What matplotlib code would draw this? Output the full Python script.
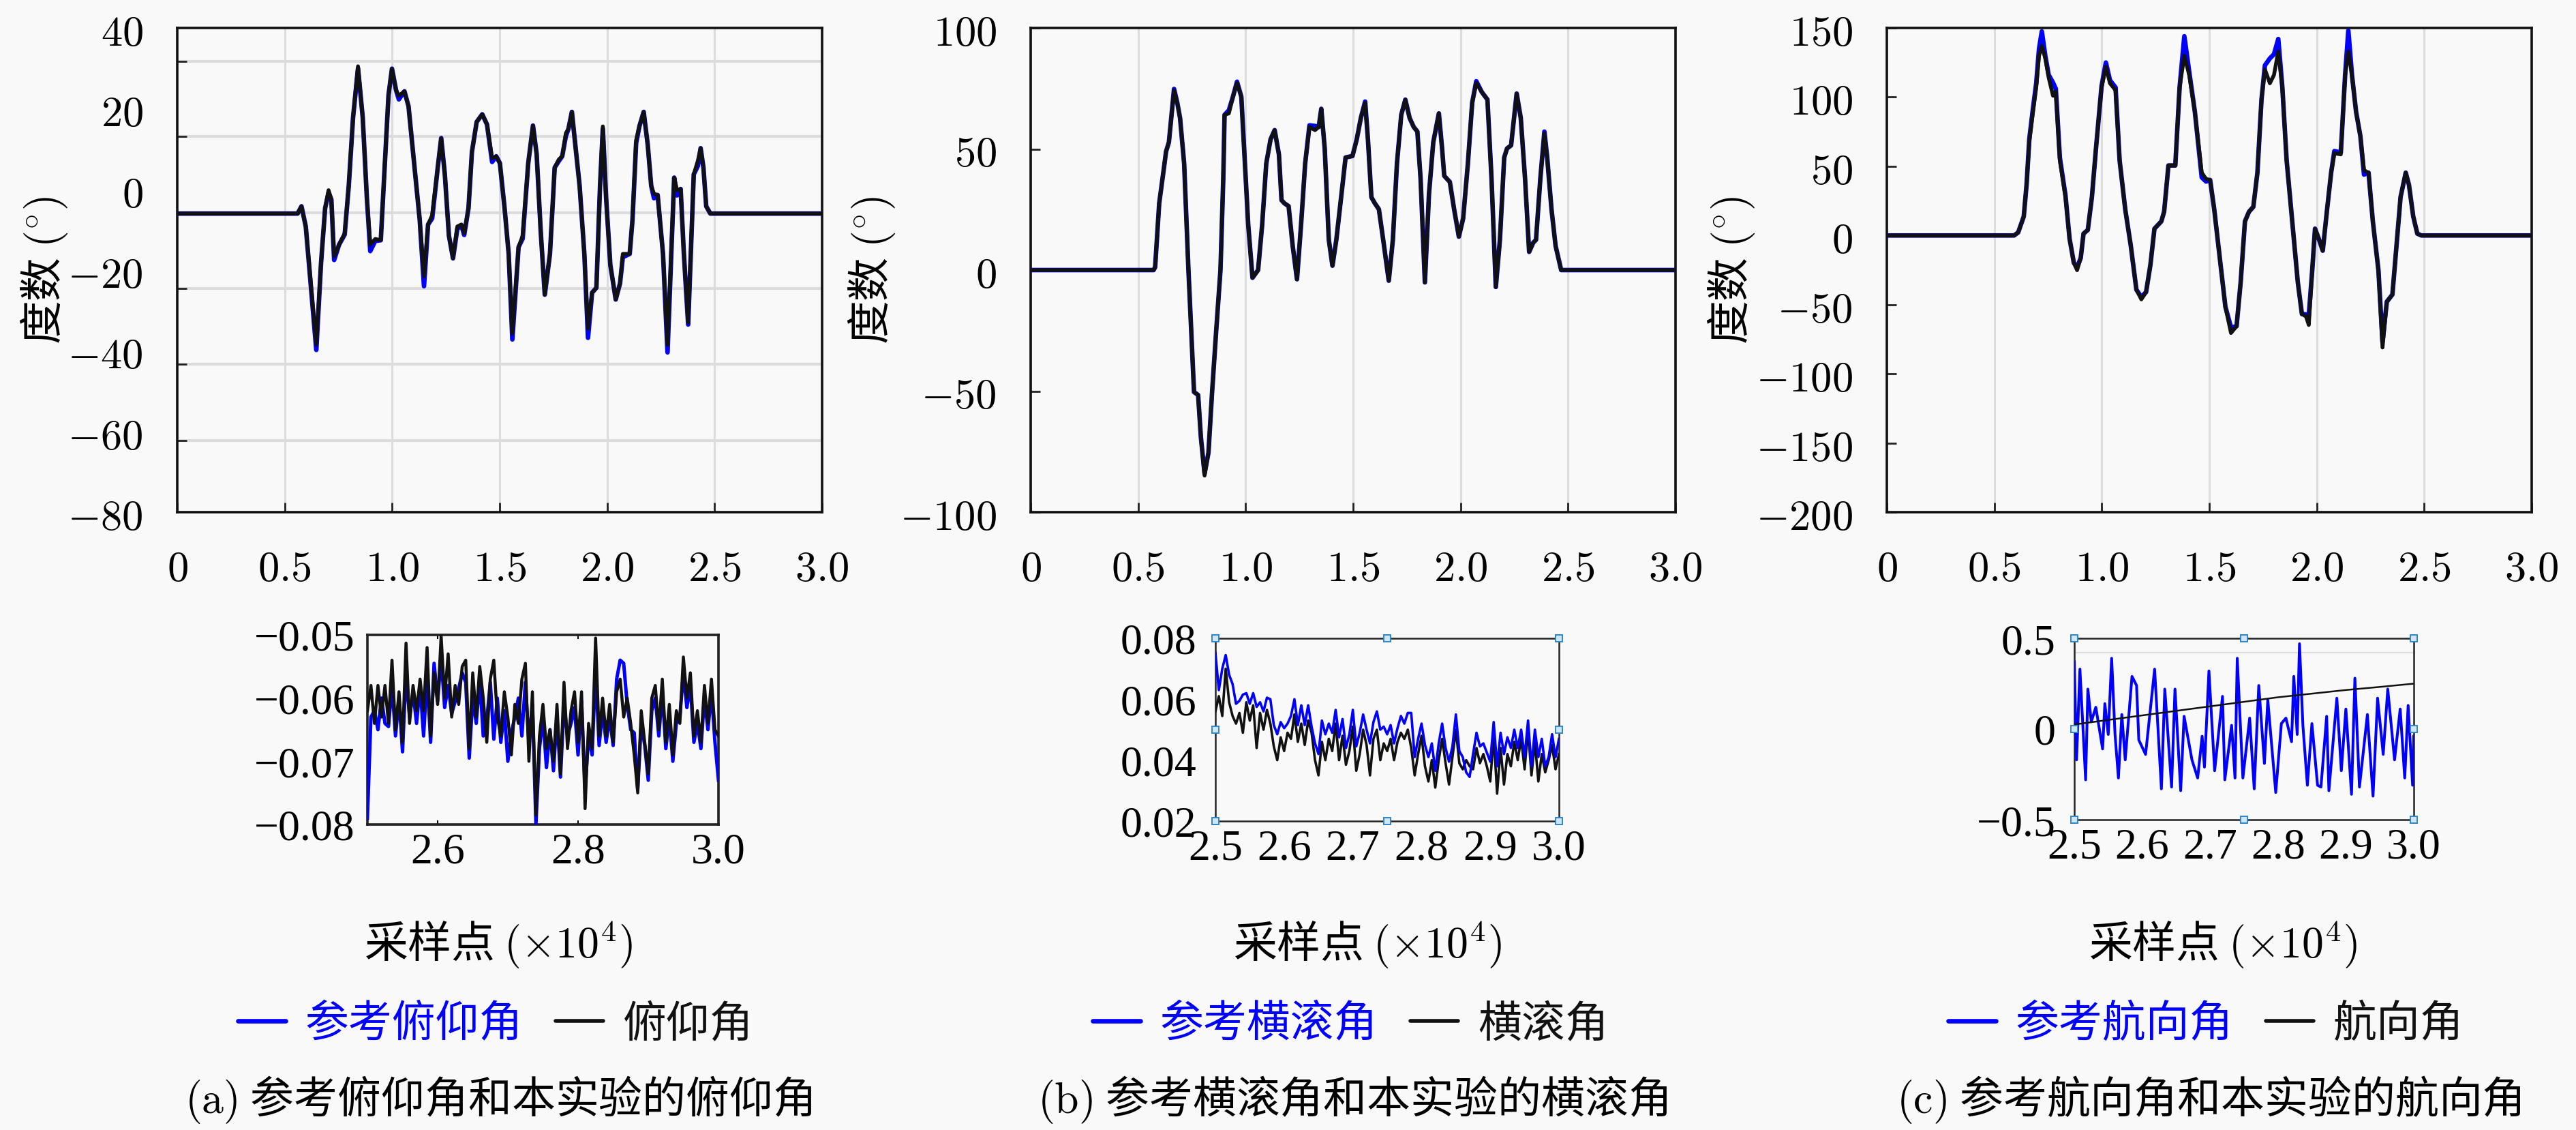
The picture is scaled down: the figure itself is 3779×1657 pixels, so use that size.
import numpy as np
import matplotlib
matplotlib.use('Agg')
import matplotlib.pyplot as plt

plt.rcParams['mathtext.fontset'] = 'cm'
plt.rcParams['font.family'] = ['Noto Sans CJK SC', 'DejaVu Sans']
plt.rcParams['axes.unicode_minus'] = True

# ---------------- data ----------------
main_xticks = [0, 0.5, 1.0, 1.5, 2.0, 2.5, 3.0]
main_xticklabels = ['0', '0.5', '1.0', '1.5', '2.0', '2.5', '3.0']

# (a) pitch, values as read against the printed y labels
pitch_x = [0.0, 0.56, 0.578, 0.598, 0.647, 0.669, 0.688, 0.704, 0.717, 0.730, 0.753, 0.779, 0.798, 0.818,
           0.841, 0.863, 0.882, 0.898, 0.921, 0.947, 0.966, 0.983, 0.999, 1.018, 1.031, 1.057, 1.076, 1.102,
           1.128, 1.148, 1.167, 1.186, 1.212, 1.228, 1.245, 1.264, 1.283, 1.303, 1.322, 1.335, 1.355, 1.371,
           1.393, 1.419, 1.441, 1.465, 1.484, 1.501, 1.523, 1.542, 1.559, 1.588, 1.607, 1.633, 1.655, 1.672,
           1.691, 1.710, 1.734, 1.756, 1.775, 1.791, 1.808, 1.820, 1.836, 1.853, 1.872, 1.894, 1.911, 1.930,
           1.950, 1.967, 1.980, 1.995, 2.015, 2.040, 2.060, 2.073, 2.105, 2.118, 2.135, 2.150, 2.170, 2.189,
           2.205, 2.218, 2.235, 2.260, 2.281, 2.312, 2.325, 2.342, 2.357, 2.377, 2.403, 2.422, 2.435, 2.448,
           2.461, 2.480, 3.0]
pitch_exp = [-6.0, -6.0, -4.2, -9.2, -38.5, -18.3, -4.7, -0.2, -2.5, -16.6, -13.7, -10.9, 0.9, 17.8,
             30.5, 17.8, -1.9, -13.7, -12.3, -12.6, 6.5, 23.4, 29.9, 24.6, 23.2, 24.3, 20.6, 6.5,
             -7.5, -21.6, -8.7, -6.4, 5.4, 12.7, 3.7, -11.5, -17.1, -9.2, -8.7, -10.9, -4.7, 9.3,
             16.7, 18.6, 16.1, 7.7, 8.2, 6.5, -4.7, -16.0, -35.8, -14.3, -11.5, 6.5, 15.8, 8.8,
             -10.4, -26.1, -16.0, 5.4, 7.4, 8.2, 13.9, 15.0, 19.2, 10.5, 0.9, -16.0, -34.5, -25.6,
             -24.4, 0.9, 15.6, -1.9, -18.8, -27.3, -23.3, -16.0, -16.0, -7.5, 12.2, 15.6, 19.2, 11.0,
             0.9, -1.1, -1.4, -16.0, -38.5, 2.9, -0.2, 0.1, -16.0, -33.0, 3.7, 7.1, 10.2, 5.4,
             -4.2, -6.0, -6.0]
pitch_ref = [-6.0, -6.0, -4.2, -9.2, -39.8, -18.3, -4.7, -0.8, -2.5, -17.5, -13.7, -11.2, 0.9, 17.8,
             30.0, 17.8, -1.9, -15.3, -12.8, -12.6, 6.5, 23.4, 29.9, 24.6, 22.3, 24.3, 20.6, 6.5,
             -7.5, -24.0, -8.7, -7.2, 5.4, 12.7, 3.7, -11.5, -17.1, -9.8, -8.9, -11.3, -4.7, 9.3,
             16.7, 18.6, 16.1, 6.8, 8.2, 6.5, -4.7, -16.0, -37.2, -14.3, -12.2, 6.5, 15.8, 8.8,
             -10.4, -26.1, -16.0, 5.4, 7.0, 8.2, 13.2, 15.0, 19.2, 10.5, 0.9, -16.0, -36.8, -25.6,
             -24.4, 0.9, 15.0, -1.9, -18.8, -27.3, -23.3, -16.8, -16.0, -7.5, 11.5, 15.6, 19.2, 11.0,
             0.9, -2.2, -1.4, -16.0, -40.4, 2.9, -1.5, 0.1, -16.0, -33.5, 3.7, 5.8, 10.2, 5.4,
             -4.2, -6.0, -6.0]
pitch_yticks = [40, 20, 0, -20, -40, -60, -80]
pitch_yticklabels = ['40', '20', '0', '-20', '-40', '-60', '-80']
pitch_grid = [31.8, 13.1, -5.8, -24.5, -43.4, -62.3]

# (b) roll
roll_x = [0.0, 0.572, 0.579, 0.598, 0.617, 0.630, 0.643, 0.667, 0.682, 0.695, 0.714, 0.734, 0.747, 0.760,
          0.779, 0.792, 0.809, 0.827, 0.844, 0.863, 0.883, 0.896, 0.902, 0.922, 0.941, 0.960, 0.980, 0.993,
          1.012, 1.032, 1.058, 1.077, 1.096, 1.116, 1.135, 1.155, 1.167, 1.180, 1.200, 1.219, 1.239, 1.258,
          1.277, 1.297, 1.323, 1.340, 1.352, 1.368, 1.387, 1.404, 1.422, 1.446, 1.465, 1.497, 1.517, 1.536,
          1.556, 1.569, 1.585, 1.601, 1.620, 1.640, 1.666, 1.685, 1.704, 1.724, 1.743, 1.763, 1.782, 1.799,
          1.814, 1.834, 1.853, 1.873, 1.899, 1.914, 1.924, 1.950, 1.970, 1.992, 2.012, 2.034, 2.054, 2.073,
          2.099, 2.125, 2.144, 2.164, 2.183, 2.203, 2.216, 2.235, 2.261, 2.280, 2.300, 2.319, 2.338, 2.351,
          2.371, 2.390, 2.403, 2.423, 2.442, 2.468, 3.0]
roll_exp = [0.0, 0.0, 1.2, 27.6, 40.2, 49.0, 52.8, 74.2, 69.1, 62.8, 44.0, 0.0, -25.2, -50.4,
            -51.6, -69.2, -84.9, -75.5, -50.4, -25.2, 0.0, 37.7, 64.1, 64.7, 71.6, 77.3, 71.6, 50.2,
            18.8, -3.2, 0.0, 18.8, 44.0, 54.0, 57.8, 47.7, 28.9, 27.6, 26.4, 10.0, -3.8, 18.8,
            44.0, 59.1, 57.8, 59.1, 66.6, 50.2, 12.5, 1.8, 12.5, 31.4, 46.5, 47.1, 54.0, 62.8,
            69.1, 54.0, 30.1, 27.6, 25.1, 12.5, -4.4, 12.5, 44.0, 64.1, 70.4, 62.8, 59.1, 57.2,
            37.7, -5.1, 31.4, 52.8, 64.7, 50.2, 38.9, 36.4, 25.1, 13.8, 21.3, 44.0, 69.1, 77.3,
            73.5, 70.4, 37.7, -7.0, 12.5, 46.5, 50.2, 51.5, 72.9, 62.8, 37.7, 7.5, 11.3, 12.5,
            37.7, 56.5, 46.5, 25.1, 10.0, 0.0, 0.0]
roll_ref = [0.0, 0.0, 1.2, 27.6, 40.2, 49.0, 52.8, 74.8, 69.1, 62.8, 44.0, 0.0, -25.2, -50.4,
            -51.6, -69.2, -84.0, -75.5, -50.4, -25.2, 0.0, 37.7, 64.1, 66.0, 71.6, 77.8, 71.6, 50.2,
            18.8, -3.2, 0.0, 18.8, 44.0, 54.0, 57.8, 47.7, 28.9, 27.6, 26.4, 10.0, -3.8, 18.8,
            44.0, 59.8, 59.5, 59.1, 66.6, 50.2, 12.5, 1.8, 12.5, 31.4, 46.5, 47.1, 54.0, 62.8,
            69.6, 54.0, 30.1, 27.6, 25.1, 12.5, -4.4, 12.5, 44.0, 64.1, 70.4, 62.8, 59.1, 57.2,
            37.7, -5.1, 31.4, 52.8, 64.7, 50.2, 38.9, 36.4, 25.1, 13.8, 21.3, 44.0, 69.1, 78.0,
            73.5, 70.4, 37.7, -7.0, 12.5, 46.5, 50.2, 51.5, 72.9, 62.8, 37.7, 7.5, 11.3, 12.5,
            37.7, 57.2, 46.5, 25.1, 10.0, 0.0, 0.0]
roll_yticks = [100, 50, 0, -50, -100]
roll_yticklabels = ['100', '50', '0', '-50', '-100']
roll_grid = [50, 0, -50]

# (c) heading
yaw_x = [0.0, 0.592, 0.611, 0.637, 0.650, 0.663, 0.680, 0.695, 0.708, 0.721, 0.737, 0.753, 0.773, 0.786,
         0.805, 0.831, 0.850, 0.870, 0.885, 0.902, 0.915, 0.935, 0.954, 0.973, 0.999, 1.019, 1.038, 1.064,
         1.083, 1.109, 1.135, 1.161, 1.184, 1.206, 1.226, 1.245, 1.277, 1.290, 1.310, 1.342, 1.362, 1.384,
         1.407, 1.433, 1.465, 1.485, 1.504, 1.523, 1.549, 1.575, 1.601, 1.627, 1.646, 1.666, 1.685, 1.705,
         1.724, 1.743, 1.759, 1.782, 1.801, 1.821, 1.840, 1.860, 1.886, 1.912, 1.931, 1.950, 1.963, 1.979,
         1.992, 2.009, 2.028, 2.047, 2.067, 2.082, 2.112, 2.132, 2.147, 2.164, 2.183, 2.203, 2.220, 2.241,
         2.261, 2.287, 2.306, 2.326, 2.352, 2.371, 2.390, 2.414, 2.429, 2.449, 2.468, 2.487, 3.0]
yaw_exp = [0, 0, 2.2, 13.7, 36.6, 68.2, 89.4, 107.0, 129.9, 137.0, 128.1, 114.0, 101.0, 104.0,
           54.2, 27.8, -2.2, -19.8, -25.1, -16.3, 1.3, 4.0, 27.8, 63.0, 107.0, 122.0, 110.0, 105.0,
           54.2, 19.0, -7.5, -39.2, -46.2, -40.9, -21.5, 4.9, 10.2, 17.2, 50.6, 50.6, 107.0, 130.0,
           115.8, 89.4, 45.4, 40.9, 40.1, 19.0, -16.3, -51.5, -70.5, -65.6, -33.9, 10.2, 17.2, 20.7,
           45.4, 98.2, 120.0, 110.0, 116.0, 133.0, 107.0, 54.2, 10.2, -33.9, -56.8, -58.5, -64.7, -25.1,
           4.9, -2.2, -11.0, 17.2, 45.4, 59.4, 58.6, 115.8, 133.0, 115.8, 89.4, 71.8, 47.1, 45.4,
           10.2, -25.1, -81.0, -47.9, -42.7, -7.5, 27.8, 45.4, 36.6, 13.7, 1.3, 0, 0]
yaw_ref = [0, 0, 2.2, 13.7, 36.6, 70.0, 92.0, 110.0, 135.0, 147.5, 130.0, 116.0, 110.5, 106.0,
           56.0, 29.0, -2.2, -19.8, -23.0, -16.3, 1.3, 4.0, 27.8, 63.0, 108.0, 125.0, 112.2, 107.0,
           54.2, 19.0, -7.5, -39.2, -44.5, -40.9, -21.5, 4.9, 10.2, 17.2, 50.6, 50.6, 107.0, 144.0,
           118.0, 89.4, 42.0, 39.0, 40.1, 19.0, -16.3, -51.5, -66.5, -65.6, -33.9, 10.2, 17.2, 20.7,
           45.4, 98.2, 123.0, 128.0, 131.0, 142.0, 107.0, 54.2, 10.2, -33.9, -56.8, -57.0, -58.0, -25.1,
           4.9, -2.2, -11.0, 17.2, 45.4, 61.0, 60.0, 115.8, 148.0, 115.8, 89.4, 71.8, 44.0, 45.4,
           10.2, -25.1, -77.0, -47.9, -42.7, -7.5, 27.8, 45.4, 36.6, 13.7, 1.3, 0, 0]
yaw_yticks = [150, 100, 50, 0, -50, -100, -150, -200]
yaw_yticklabels = ['150', '100', '50', '0', '-50', '-100', '-150', '-200']
yaw_grid = [100, 50, 0, -50, -100, -150]

# insets (x in units of 10^4, sampled every 0.005 for (a) and (b))
pitch_in_exp = [-0.062, -0.058, -0.064, -0.058, -0.063, -0.058, -0.064, -0.054, -0.065, -0.059,
                -0.067, -0.0513, -0.064, -0.058, -0.062, -0.057, -0.062, -0.052, -0.066, -0.056,
                -0.061, -0.0502, -0.060, -0.053, -0.063, -0.058, -0.061, -0.055, -0.054, -0.068,
                -0.056, -0.063, -0.055, -0.060, -0.067, -0.057, -0.054, -0.063, -0.066, -0.059,
                -0.063, -0.069, -0.061, -0.064, -0.057, -0.0545, -0.070, -0.059, -0.0785, -0.066,
                -0.061, -0.068, -0.065, -0.070, -0.061, -0.072, -0.0575, -0.068, -0.062, -0.059,
                -0.067, -0.059, -0.0775, -0.064, -0.068, -0.0505, -0.066, -0.060, -0.066, -0.061,
                -0.067, -0.059, -0.057, -0.063, -0.060, -0.064, -0.069, -0.075, -0.062, -0.067,
                -0.072, -0.060, -0.058, -0.065, -0.057, -0.067, -0.061, -0.069, -0.062, -0.064,
                -0.0535, -0.060, -0.056, -0.066, -0.062, -0.067, -0.058, -0.064, -0.057, -0.065,
                -0.066]
pitch_in_ref = [-0.079, -0.063, -0.062, -0.065, -0.060, -0.064, -0.0645, -0.058, -0.066, -0.060,
                -0.0685, -0.056, -0.063, -0.059, -0.064, -0.058, -0.066, -0.0565, -0.067, -0.0545,
                -0.0605, -0.0535, -0.0615, -0.058, -0.0625, -0.0605, -0.0585, -0.056, -0.0575, -0.0695,
                -0.060, -0.064, -0.057, -0.066, -0.0635, -0.0575, -0.0665, -0.060, -0.067, -0.062,
                -0.070, -0.0655, -0.063, -0.060, -0.066, -0.0575, -0.067, -0.061, -0.080, -0.068,
                -0.063, -0.071, -0.065, -0.0715, -0.063, -0.0725, -0.061, -0.066, -0.064, -0.0615,
                -0.069, -0.0605, -0.0745, -0.066, -0.069, -0.0555, -0.0675, -0.062, -0.067, -0.063,
                -0.0675, -0.057, -0.0540, -0.0545, -0.061, -0.065, -0.0655, -0.0745, -0.064, -0.0675,
                -0.073, -0.062, -0.060, -0.066, -0.059, -0.068, -0.063, -0.070, -0.064, -0.063,
                -0.056, -0.0615, -0.058, -0.067, -0.064, -0.068, -0.060, -0.065, -0.059, -0.067,
                -0.073]
pitch_in_yticks = [-0.05, -0.06, -0.07, -0.08]
pitch_in_yticklabels = ['\u22120.05', '\u22120.06', '\u22120.07', '\u22120.08']
pitch_in_xticks = [2.6, 2.8, 3.0]
pitch_in_xticklabels = ['2.6', '2.8', '3.0']

roll_in_ref = [0.0752, 0.0630, 0.0700, 0.0745, 0.0680, 0.0650, 0.0585, 0.0595, 0.0615, 0.0620,
               0.0585, 0.0620, 0.0575, 0.0590, 0.0560, 0.0605, 0.0600, 0.0515, 0.0485, 0.0525,
               0.0505, 0.0520, 0.0545, 0.0600, 0.0515, 0.0580, 0.0515, 0.0580, 0.0510, 0.0455,
               0.0420, 0.0530, 0.0485, 0.0520, 0.0490, 0.0565, 0.0475, 0.0535, 0.0440, 0.0485,
               0.0565, 0.0445, 0.0490, 0.0550, 0.0500, 0.0455, 0.0525, 0.0560, 0.0500, 0.0510,
               0.0485, 0.0515, 0.0455, 0.0505, 0.0545, 0.0520, 0.0555, 0.0555, 0.0410, 0.0470,
               0.0520, 0.0450, 0.0410, 0.0455, 0.0365, 0.0455, 0.0520, 0.0440, 0.0395, 0.0445,
               0.0550, 0.0430, 0.0410, 0.0360, 0.0345, 0.0420, 0.0490, 0.0445, 0.0455, 0.0425,
               0.0395, 0.0525, 0.0380, 0.0490, 0.0420, 0.0475, 0.0440, 0.0500, 0.0440, 0.0500,
               0.0410, 0.0530, 0.0380, 0.0500, 0.0410, 0.0470, 0.0380, 0.0410, 0.0485, 0.0410,
               0.0470]
roll_in_exp = [0.0560, 0.0610, 0.0545, 0.0700, 0.0590, 0.0545, 0.0520, 0.0555, 0.0490, 0.0590,
               0.0530, 0.0580, 0.0440, 0.0555, 0.0500, 0.0565, 0.0520, 0.0445, 0.0400, 0.0475,
               0.0430, 0.0490, 0.0470, 0.0550, 0.0460, 0.0520, 0.0450, 0.0530, 0.0490, 0.0400,
               0.0350, 0.0460, 0.0400, 0.0470, 0.0430, 0.0520, 0.0400, 0.0480, 0.0385, 0.0430,
               0.0510, 0.0365, 0.0420, 0.0500, 0.0450, 0.0350, 0.0470, 0.0500, 0.0400, 0.0455,
               0.0430, 0.0470, 0.0400, 0.0460, 0.0490, 0.0470, 0.0500, 0.0440, 0.0350, 0.0420,
               0.0480, 0.0380, 0.0330, 0.0400, 0.0310, 0.0400, 0.0470, 0.0390, 0.0320, 0.0410,
               0.0500, 0.0390, 0.0370, 0.0400, 0.0380, 0.0370, 0.0440, 0.0390, 0.0420, 0.0380,
               0.0330, 0.0480, 0.0290, 0.0440, 0.0320, 0.0420, 0.0380, 0.0460, 0.0400, 0.0470,
               0.0370, 0.0500, 0.0350, 0.0460, 0.0330, 0.0420, 0.0360, 0.0400, 0.0450, 0.0370,
               0.0420]
roll_in_yticks = [0.08, 0.06, 0.04, 0.02]
roll_in_yticklabels = ['0.08', '0.06', '0.04', '0.02']
small_xticks = [2.5, 2.6, 2.7, 2.8, 2.9, 3.0]
small_xticklabels = ['2.5', '2.6', '2.7', '2.8', '2.9', '3.0']
small_xgrid = [2.6, 2.7, 2.8, 2.9]
roll_handles_x = [2.5, 2.75, 3.0, 2.5, 3.0, 2.5, 2.75, 3.0]
roll_handles_y = [0.08, 0.08, 0.08, 0.05, 0.05, 0.02, 0.02, 0.02]

yaw_in_x = [2.5000, 2.5033, 2.5083, 2.5167, 2.5200, 2.5250, 2.5317, 2.5417, 2.5450, 2.5500,
            2.5550, 2.5600, 2.5650, 2.5700, 2.5750, 2.5850, 2.5917, 2.5950, 2.6050, 2.6183,
            2.6283, 2.6333, 2.6433, 2.6483, 2.6567, 2.6617, 2.6733, 2.6817, 2.6883, 2.6917,
            2.6983, 2.7067, 2.7183, 2.7217, 2.7317, 2.7367, 2.7400, 2.7483, 2.7583, 2.7650,
            2.7717, 2.7800, 2.7850, 2.7967, 2.8050, 2.8117, 2.8200, 2.8233, 2.8283, 2.8317,
            2.8367, 2.8433, 2.8500, 2.8583, 2.8633, 2.8717, 2.8750, 2.8867, 2.8933, 2.9000,
            2.9083, 2.9133, 2.9200, 2.9317, 2.9400, 2.9467, 2.9550, 2.9617, 2.9717, 2.9800,
            2.9867, 2.9917, 2.9983, 3.0000]
yaw_in_ref = [0.37, -0.17, 0.33, -0.28, 0.22, 0.04, 0.12, -0.11, 0.14, -0.03,
              0.39, -0.03, -0.27, 0.08, -0.17, 0.29, 0.24, -0.06, -0.14, 0.33,
              -0.33, 0.22, -0.32, 0.22, -0.34, 0.07, -0.17, -0.27, -0.04, -0.21,
              0.32, -0.23, 0.18, -0.28, 0.02, -0.27, 0.39, -0.27, 0.06, -0.33,
              0.24, -0.19, 0.16, -0.35, 0.03, 0.06, -0.07, 0.29, -0.03, 0.47,
              0.02, -0.31, 0.03, -0.31, -0.32, 0.07, -0.34, 0.17, -0.23, 0.11,
              -0.36, 0.28, -0.32, 0.08, -0.37, 0.17, -0.14, 0.22, -0.17, 0.11,
              -0.27, 0.13, -0.31, -0.04]
yaw_in_exp_x = [2.50, 2.55, 2.60, 2.65, 2.70, 2.75, 2.80, 2.85, 2.90, 2.95, 3.00]
yaw_in_exp = [0.025, 0.050, 0.075, 0.100, 0.125, 0.150, 0.175, 0.195, 0.215, 0.232, 0.250]
yaw_in_yticks = [0.5, 0.0, -0.5]
yaw_in_yticklabels = ['0.5', '0', '\u22120.5']
yaw_in_hgrid = [0.42]
yaw_handles_x = [2.5, 2.75, 3.0, 2.5, 3.0, 2.5, 2.75, 3.0]
yaw_handles_y = [0.5, 0.5, 0.5, 0.0, 0.0, -0.5, -0.5, -0.5]

labels_ref = ['参考俯仰角', '参考横滚角', '参考航向角']
labels_exp = ['俯仰角', '横滚角', '航向角']
captions = ['$(\\mathrm{a})$ 参考俯仰角和本实验的俯仰角',
            '$(\\mathrm{b})$ 参考横滚角和本实验的横滚角',
            '$(\\mathrm{c})$ 参考航向角和本实验的航向角']
ylabel_text = '度数 $(^{\\circ})$'
xlabel_text = '采样点 $(\\times 10^{4})$'

# ---------------- layout ----------------
W, H = 3780, 1658
BG = '#f9f9f9'
BLUE = '#0000ff'
BLACK = '#111111'
GRID = '#dcdcdc'
SERIF = 'Liberation Serif'

fig = plt.figure(figsize=(W / 100, H / 100), dpi=100, facecolor=BG)


def rect(l, t, w, h):
    return [l / W, 1 - (t + h) / H, w / W, h / H]


def main_panel(r, x, ref, exp, ylim, yticks, yticklabels, grid_y, grid_on_minor):
    ax = fig.add_axes(r)
    ax.set_facecolor(BG)
    lr, = ax.plot(x, ref, color=BLUE, lw=4.8, solid_joinstyle='round', solid_capstyle='round', zorder=3)
    le, = ax.plot(x, exp, color=BLACK, lw=4.0, solid_joinstyle='round', solid_capstyle='round', zorder=4)
    ax.set_xlim(0, 3)
    ax.set_ylim(*ylim)
    ax.set_xticks(main_xticks)
    ax.set_xticklabels(['$%s$' % t for t in main_xticklabels])
    ax.set_yticks(yticks)
    ax.set_yticklabels(['$%s$' % t for t in yticklabels])
    ax.tick_params(axis='both', which='major', labelsize=45, pad=36, direction='in',
                   length=10, width=2, color='#222222')
    ax.xaxis.grid(True, which='major', color=GRID, lw=2.2, zorder=0)
    if grid_on_minor:
        ax.tick_params(axis='y', which='major', length=0)
        ax.set_yticks(grid_y, minor=True)
        ax.tick_params(axis='y', which='minor', direction='in', length=10, width=2, color='#222222')
        ax.yaxis.grid(True, which='minor', color=GRID, lw=3.0, zorder=0)
    else:
        ax.set_yticks(grid_y, minor=True)
        ax.tick_params(axis='y', which='minor', length=0)
        ax.yaxis.grid(True, which='minor', color=GRID, lw=3.0, zorder=0)
    ax.set_axisbelow(True)
    for s in ax.spines.values():
        s.set_linewidth(2.6)
        s.set_color('#111111')
    return ax, lr, le


def inset_panel(r, spine_lw):
    ax = fig.add_axes(r)
    ax.set_facecolor(BG)
    ax.set_xlim(2.5, 3.0)
    for s in ax.spines.values():
        s.set_linewidth(spine_lw)
        s.set_color('#222222')
    return ax


main_rects = [rect(260, 42, 946, 710), rect(1512, 42, 946, 710), rect(2768, 42, 946, 710)]

axa, la_r, la_e = main_panel(main_rects[0], pitch_x, pitch_ref, pitch_exp, (-80, 40),
                             pitch_yticks, pitch_yticklabels, pitch_grid, True)
axb, lb_r, lb_e = main_panel(main_rects[1], roll_x, roll_ref, roll_exp, (-100, 100),
                             roll_yticks, roll_yticklabels, roll_grid, False)
axc, lc_r, lc_e = main_panel(main_rects[2], yaw_x, yaw_ref, yaw_exp, (-200, 150),
                             yaw_yticks, yaw_yticklabels, yaw_grid, False)
for ax in (axb, axc):
    ax.tick_params(axis='y', which='major', length=10)

# inset (a)
ia = inset_panel(rect(539, 932, 515, 278), 2.6)
xs_a = np.linspace(2.5, 3.0, len(pitch_in_exp))
ia.plot(xs_a, pitch_in_ref, color=BLUE, lw=3.6, zorder=3)
ia.plot(xs_a, pitch_in_exp, color=BLACK, lw=3.2, zorder=4)
ia.set_ylim(-0.08, -0.05)
ia.set_yticks(pitch_in_yticks)
ia.set_yticklabels(pitch_in_yticklabels, fontfamily=SERIF)
ia.set_xticks(pitch_in_xticks)
ia.set_xticklabels(pitch_in_xticklabels, fontfamily=SERIF)
ia.tick_params(axis='y', labelsize=46, pad=13, length=0)
ia.tick_params(axis='x', labelsize=46, pad=8, length=4, direction='in', top=True, width=1.5)

# inset (b)
ib = inset_panel(rect(1783, 937, 504, 268), 1.8)
xs_b = np.linspace(2.5, 3.0, len(roll_in_ref))
ib.plot(xs_b, roll_in_exp, color=BLACK, lw=2.6, zorder=3)
ib.plot(xs_b, roll_in_ref, color=BLUE, lw=2.6, zorder=4)
ib.set_ylim(0.02, 0.08)
ib.set_yticks(roll_in_yticks)
ib.set_yticklabels(roll_in_yticklabels, fontfamily=SERIF)
ib.set_xticks(small_xticks)
ib.set_xticklabels(small_xticklabels, fontfamily=SERIF)
ib.set_xticks(small_xgrid, minor=True)
ib.xaxis.grid(True, which='minor', color='#d4d4d4', lw=1.6, zorder=0)
ib.tick_params(axis='both', which='major', labelsize=46, length=0)
ib.tick_params(axis='y', pad=20)
ib.tick_params(axis='x', pad=8)
ib.tick_params(axis='x', which='minor', length=0)
ib.set_axisbelow(True)
ib.plot(roll_handles_x, roll_handles_y, 's', ms=7.5, mfc='#cfe6f8', mec='#2f86c8', mew=1.4,
        clip_on=False, zorder=6)

# inset (c)
ic = inset_panel(rect(3043, 937, 498, 266), 1.8)
ic.plot(yaw_in_x, yaw_in_ref, color=BLUE, lw=2.9, zorder=3)
ic.plot(yaw_in_exp_x, yaw_in_exp, color=BLACK, lw=1.8, zorder=4)
ic.set_ylim(-0.5, 0.5)
ic.set_yticks(yaw_in_yticks)
ic.set_yticklabels(yaw_in_yticklabels, fontfamily=SERIF)
ic.set_xticks(small_xticks)
ic.set_xticklabels(small_xticklabels, fontfamily=SERIF)
ic.set_xticks(small_xgrid, minor=True)
ic.set_yticks(yaw_in_hgrid, minor=True)
ic.xaxis.grid(True, which='minor', color='#d4d4d4', lw=1.6, zorder=0)
ic.yaxis.grid(True, which='minor', color='#dddddd', lw=1.6, zorder=0)
ic.tick_params(axis='both', which='major', labelsize=46, length=0)
ic.tick_params(axis='both', which='minor', length=0)
ic.tick_params(axis='y', pad=20)
ic.tick_params(axis='x', pad=8)
ic.set_axisbelow(True)
ic.plot(yaw_handles_x, yaw_handles_y, 's', ms=7.5, mfc='#cfe6f8', mec='#2f86c8', mew=1.4,
        clip_on=False, zorder=6)

# texts
ylabel_x = [64, 1278, 2540]
xlabel_cx = [731, 2006, 3261]
legend_cx = [727, 1981, 3236]
caption_cx = [731, 1984, 3240]
handles = [(la_r, la_e), (lb_r, lb_e), (lc_r, lc_e)]

for i in range(3):
    fig.text(ylabel_x[i] / W, 1 - 397 / H, ylabel_text, rotation=90, ha='center', va='center',
             fontsize=46)
    fig.text(xlabel_cx[i] / W, 1 - 1386 / H, xlabel_text, ha='center', va='center', fontsize=46)
    fig.legend(handles=list(handles[i]), labels=[labels_ref[i], labels_exp[i]], loc='center',
               bbox_to_anchor=(legend_cx[i] / W, 1 - 1502 / H), ncol=2, frameon=False,
               fontsize=46, handlelength=1.1, handletextpad=0.45, columnspacing=0.75,
               labelcolor='linecolor', borderpad=0, borderaxespad=0)
    fig.text(caption_cx[i] / W, 1 - 1613 / H, captions[i], ha='center', va='center', fontsize=46)

fig.savefig('out.png', dpi=100, facecolor=BG)
